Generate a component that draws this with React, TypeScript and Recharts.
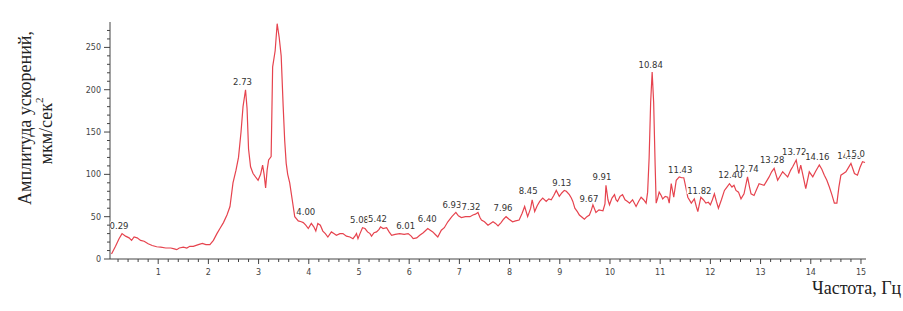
import React from "react";
import { ComposedChart, Line, Scatter, XAxis, YAxis } from "recharts";

// spectrum: frequency (Hz) / amplitude
const freqs = [
  0.07, 0.15, 0.22, 0.28, 0.35, 0.42, 0.47, 0.52, 0.58, 0.65, 0.72, 0.8, 0.88, 0.97, 1.05, 1.15, 1.25, 1.32,
  1.37, 1.42, 1.5, 1.57, 1.63, 1.7, 1.8, 1.88, 1.95, 2.03, 2.1, 2.17, 2.23, 2.3, 2.37, 2.43, 2.49, 2.55, 2.6,
  2.65, 2.69, 2.74, 2.77, 2.8, 2.84, 2.89, 2.95, 2.99, 3.04, 3.08, 3.11, 3.14, 3.17, 3.2, 3.25, 3.28, 3.33,
  3.37, 3.41, 3.45, 3.49, 3.52, 3.55, 3.58, 3.62, 3.67, 3.72, 3.79, 3.85, 3.89, 3.94, 3.99, 4.05, 4.1, 4.14,
  4.18, 4.23, 4.28, 4.33, 4.38, 4.45, 4.5, 4.55, 4.62, 4.68, 4.75, 4.82, 4.88, 4.93, 4.95, 4.98, 5.02, 5.07,
  5.12, 5.17, 5.22, 5.25, 5.3, 5.35, 5.4, 5.43, 5.48, 5.55, 5.6, 5.65, 5.72, 5.81, 5.9, 5.98, 6.04, 6.08,
  6.15, 6.21, 6.28, 6.37, 6.42, 6.47, 6.52, 6.57, 6.64, 6.7, 6.77, 6.85, 6.93, 6.98, 7.04, 7.12, 7.21, 7.27,
  7.32, 7.37, 7.41, 7.44, 7.5, 7.57, 7.62, 7.67, 7.72, 7.77, 7.83, 7.88, 7.93, 7.99, 8.06, 8.12, 8.19, 8.25,
  8.3, 8.36, 8.42, 8.45, 8.5, 8.55, 8.6, 8.66, 8.73, 8.78, 8.83, 8.88, 8.93, 8.99, 9.04, 9.09, 9.13, 9.19,
  9.23, 9.26, 9.3, 9.35, 9.39, 9.45, 9.49, 9.54, 9.59, 9.63, 9.66, 9.72, 9.78, 9.86, 9.9, 9.92, 9.96, 9.99,
  10.04, 10.09, 10.12, 10.15, 10.2, 10.25, 10.3, 10.35, 10.39, 10.45, 10.52, 10.57, 10.62, 10.67, 10.72,
  10.75, 10.78, 10.81, 10.84, 10.87, 10.9, 10.92, 10.95, 10.98, 11.02, 11.05, 11.1, 11.15, 11.18, 11.22,
  11.27, 11.32, 11.38, 11.43, 11.47, 11.51, 11.55, 11.62, 11.68, 11.72, 11.75, 11.81, 11.86, 11.91, 11.96,
  12.0, 12.04, 12.08, 12.12, 12.16, 12.22, 12.28, 12.33, 12.38, 12.43, 12.47, 12.51, 12.56, 12.61, 12.67,
  12.74, 12.78, 12.81, 12.87, 12.92, 12.97, 13.02, 13.07, 13.12, 13.17, 13.22, 13.27, 13.34, 13.39, 13.44,
  13.49, 13.54, 13.6, 13.64, 13.71, 13.76, 13.8, 13.84, 13.9, 13.97, 14.04, 14.1, 14.17, 14.22, 14.27, 14.32,
  14.37, 14.42, 14.47, 14.52, 14.56, 14.6, 14.65, 14.7, 14.75, 14.8, 14.87, 14.93, 14.98, 15.03, 15.08,
];
const amps = [
  6, 15, 24, 30, 27, 25, 22, 26, 25, 22, 21, 18, 16, 14.5, 14, 13, 13, 12,
  11, 13, 14, 13, 15, 15, 17, 18.5, 17, 17, 22, 30, 36, 43, 52, 62, 90, 105, 120,
  150, 180, 200, 178, 130, 109, 101, 96, 93, 100, 111, 100, 84, 105, 117, 121, 227, 246,
  278, 262, 240, 180, 140, 113, 100, 90, 70, 50, 45, 44, 43, 40, 36, 42, 38, 33,
  42, 40, 33, 30, 26, 32, 30, 28, 30, 30, 27, 26, 24, 28, 30, 24, 30, 37,
  36, 32, 30, 27, 31, 32, 35, 38, 36, 37, 32, 28, 29, 30, 29, 30, 27, 24,
  25, 28, 31, 36, 34, 32, 29, 26, 34, 37, 44, 50, 55, 51, 49, 50, 50, 52,
  53, 55, 49, 46, 44, 40, 42, 44, 42, 39, 43, 47, 50, 47, 44, 45, 46, 54,
  62, 50, 60, 70, 56, 63, 68, 72, 68, 71, 70, 75, 81, 74, 78, 81, 80, 76,
  72, 68, 60, 56, 52, 49, 47, 50, 52, 58, 64, 55, 58, 57, 65, 87, 70, 64,
  72, 76, 70, 68, 74, 76, 70, 68, 66, 70, 62, 68, 73, 70, 66,
  79, 120, 185, 221, 185, 110, 66, 72, 79, 75, 71, 74, 73, 66, 89,
  73, 93, 97, 96, 96, 85, 73, 66, 71, 62, 56, 73, 70, 66, 67,
  64, 70, 77, 68, 60, 70, 81, 85, 89, 85, 87, 81, 79, 71, 77,
  97, 85, 77, 75, 82, 89, 88, 87, 92, 97, 103, 107, 93, 98, 103,
  100, 97, 105, 109, 117, 101, 111, 100, 83, 103, 97, 104, 111, 106, 99, 93,
  85, 76, 66, 66, 85, 99, 101, 103, 108, 113, 101, 99, 108, 115, 114,
];

// peak markers printed above the curve
const peakFreqs = [0.28, 2.74, 3.37, 4.0, 5.07, 5.43, 5.99, 6.42, 6.91, 7.29, 7.93, 8.43, 9.1, 9.64, 9.9, 10.87, 11.46, 11.84, 12.46, 12.78, 13.29, 13.73, 14.19, 14.83, 14.95];
const peakAmps = [30, 200, 279, 47, 37, 38, 30, 38, 55, 53, 51, 71, 81, 62, 88, 220, 96, 72, 90, 98, 108, 117, 112, 113, 115];
const peakTexts = ["0.29", "2.73", "3.37", "4.00", "5.08", "5.42", "6.01", "6.40", "6.93", "7.32", "7.96", "8.45", "9.13", "9.67", "9.91", "10.84", "11.43", "11.82", "12.40", "12.74", "13.28", "13.72", "14.16", "14.80", "15.0"];

const xMajor = [1, 2, 3, 4, 5, 6, 7, 8, 9, 10, 11, 12, 13, 14, 15];
const yMajor = [0, 50, 100, 150, 200, 250];

const chartData = freqs.map((f, i) => ({ f, a: amps[i] }));
const peakData = peakFreqs.map((f, i) => ({ f, v: peakAmps[i], text: peakTexts[i] }));
const xTicks = Array.from({ length: 75 }, (_, i) => +(0.2 * (i + 1)).toFixed(1));
const yTicks = Array.from({ length: 28 }, (_, i) => i * 10);

const tickFont = "DejaVu Sans";

const XTick = (props: any) => {
  const { x, y, payload } = props;
  const major = xMajor.includes(payload.value);
  return (
    <g>
      <line x1={x} y1={y} x2={x} y2={y + (major ? 5 : 3)} stroke="#444" />
      {major && (
        <text x={x} y={y + 16} textAnchor="middle" fontSize={8} fill="#444" fontFamily={tickFont}>
          {payload.value}
        </text>
      )}
    </g>
  );
};

const YTick = (props: any) => {
  const { x, y, payload } = props;
  const major = yMajor.includes(payload.value);
  return (
    <g>
      <line x1={x - (major ? 6 : 3)} y1={y} x2={x} y2={y} stroke="#444" />
      {major && (
        <text x={x - 9} y={y + 3} textAnchor="end" fontSize={8} fill="#444" fontFamily={tickFont}>
          {payload.value}
        </text>
      )}
    </g>
  );
};

const PeakLabel = (props: any) => {
  const { cx, cy, payload } = props;
  const tx = cx - 3;
  const w = payload.text.length * 4.9 + 1;
  return (
    <g>
      <rect x={tx - w / 2} y={cy - 12} width={w} height={8} fill="#fff" />
      <text x={tx} y={cy - 4.5} textAnchor="middle" fontSize={8.5} fill="#333" fontFamily={tickFont}>
        {payload.text}
      </text>
    </g>
  );
};

export default function App() {
  return (
    <div style={{ position: "absolute", left: 0, top: 0, width: 903, height: 311, background: "#fff" }}>
      <ComposedChart
        width={903}
        height={311}
        data={chartData}
        margin={{ top: 22, right: 37, bottom: 22, left: 50 }}
      >
        <XAxis
          type="number"
          dataKey="f"
          domain={[0.04, 15.1]}
          allowDataOverflow
          ticks={xTicks}
          interval={0}
          tick={<XTick />}
          tickLine={false}
          tickSize={0}
          tickMargin={0}
          height={30}
          axisLine={{ stroke: "#444" }}
        />
        <YAxis
          type="number"
          domain={[0, 280]}
          allowDataOverflow
          ticks={yTicks}
          interval={0}
          tick={<YTick />}
          tickLine={false}
          tickSize={0}
          tickMargin={0}
          width={60}
          axisLine={{ stroke: "#444" }}
        />
        <Line
          type="linear"
          dataKey="a"
          stroke="#e6434e"
          strokeWidth={1.2}
          dot={false}
          isAnimationActive={false}
        />
        <Scatter data={peakData} dataKey="v" shape={<PeakLabel />} isAnimationActive={false} />
      </ComposedChart>
      <svg
        width={903}
        height={311}
        style={{ position: "absolute", left: 0, top: 0, pointerEvents: "none" }}
        fontFamily="Liberation Serif"
        fill="#222"
      >
        <text x={25} y={118} fontSize={18} textAnchor="middle" dominantBaseline="central" transform="rotate(-90 25 118)">
          Амплитуда ускорений,
        </text>
        <text x={46} y={131} fontSize={18} textAnchor="middle" dominantBaseline="central" transform="rotate(-90 46 131)">
          мкм/сек<tspan fontSize={11} dy={-7}>2</tspan>
        </text>
        <text x={812} y={294} fontSize={18}>
          Частота, Гц
        </text>
      </svg>
    </div>
  );
}
